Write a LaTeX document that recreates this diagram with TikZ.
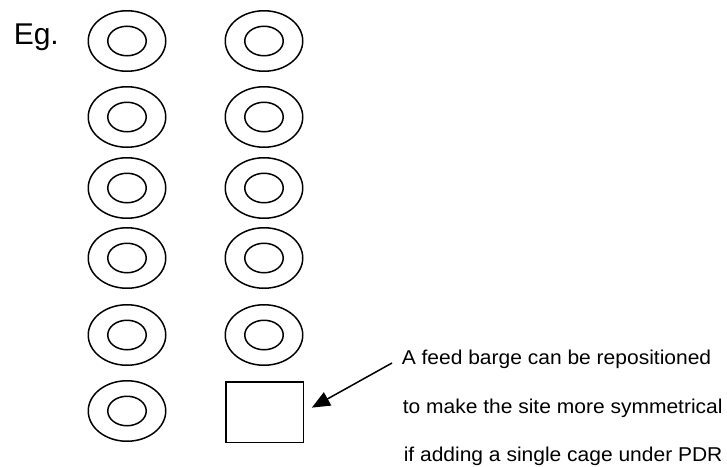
\documentclass[tikz,border=0pt]{standalone}
\usepackage{fontspec}
\setmainfont{Liberation Sans}
\usetikzlibrary{shapes.geometric,arrows.meta}
\begin{document}
\begin{tikzpicture}[x=1pt,y=-1pt,
line width=1.5pt,
cage/.style={%
draw,
ellipse,
inner sep=0pt,
minimum width=77.5pt,
minimum height=60.5pt
},
ring/.style={%
draw,
ellipse,
inner sep=0pt,
minimum width=38.5pt,
minimum height=29.5pt
},
note/.style={%
font=\fontsize{20}{24}\selectfont,
anchor=base west,
inner sep=0pt,
xscale=1.05
}]
\useasboundingbox (0,0) rectangle (727,466);
\node[anchor=base west,inner sep=0pt,font=\fontsize{30}{36}\selectfont] (eg) at (13,44) {Eg.};
\foreach \y[count=\i from 1] in {41,117,188,258,335,411}{%
\node[cage] (left\i) at (127,\y) {};
\node[ring] (lring\i) at (left\i) {};
}
\foreach \y[count=\i from 1] in {41,117,188,258,335}{%
\node[cage] (right\i) at (264,\y) {};
\node[ring] (rring\i) at (right\i) {};
}
\node[draw,inner sep=0pt,minimum width=77.5pt,minimum height=60.5pt] (barge) at (264.5,412) {};
\node[note] (line1) at (401,364) {A feed barge can be repositioned};
\node[note] (line2) at (402,413) {to make the site more symmetrical};
\node[note] (line3) at (403,461) {if adding a single cage under PDR};
\coordinate (tail) at (392,363);
\draw[-{Triangle[length=18pt,width=15pt]},shorten >=9pt] (tail) -- (barge.east);
\end{tikzpicture}
\end{document}
